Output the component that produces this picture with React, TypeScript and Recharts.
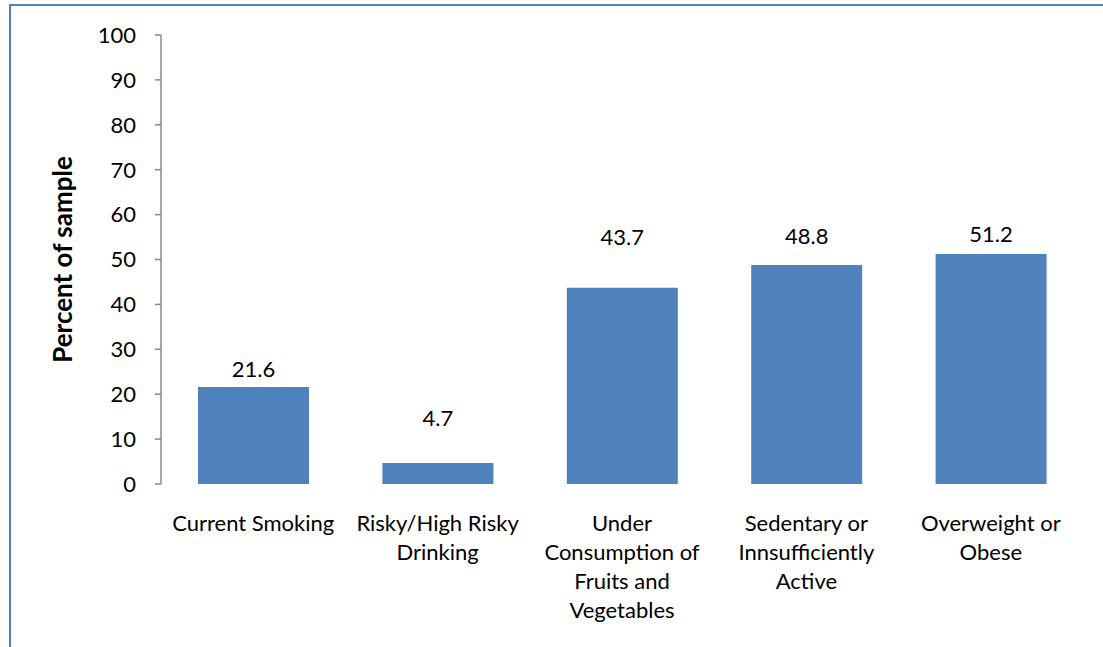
import { BarChart, Bar, XAxis, YAxis, LabelList } from 'recharts'

// Risk factor prevalence, percent of sample
const CATEGORIES = [
  'Current Smoking',
  'Risky/High Risky\nDrinking',
  'Under\nConsumption of\nFruits and\nVegetables',
  'Sedentary or\nInnsufficiently\nActive',
  'Overweight or\nObese',
]
const PREVALENCE = [21.6, 4.7, 43.7, 48.8, 51.2]
const Y_TICKS = [0, 10, 20, 30, 40, 50, 60, 70, 80, 90, 100]
const CATEGORY_EDGES = [0, 1, 2, 3, 4, 5]

// how far each value label sits above its bar (px, to the text's middle)
const LABEL_LIFT = [19, 45, 51, 29, 21]

const BAR_BLUE = '#4F81BD'
const AXIS_GREY = '#888888'
const FONT = 'Lato, "Open Sans", sans-serif'

const data = CATEGORIES.map((name, i) => ({ name, value: PREVALENCE[i] }))

function CategoryTick(props: any) {
  const { x, y, payload } = props
  const lines = String(payload.value).split('\n')
  return (
    <text x={x} y={y + 39} textAnchor="middle" fontSize={22} fontFamily={FONT} fill="#000">
      {lines.map((line, i) => (
        <tspan key={i} x={x} dy={i === 0 ? 0 : 29}>
          {line}
        </tspan>
      ))}
    </text>
  )
}

function ValueLabel(props: any) {
  const { x, y, width, value, index } = props
  return (
    <text
      x={x + width / 2}
      y={y - LABEL_LIFT[index]}
      textAnchor="middle"
      dominantBaseline="central"
      fontSize={22}
      fontFamily={FONT}
      fill="#000"
    >
      {value}
    </text>
  )
}

function AxisTitle(props: any) {
  const { viewBox } = props
  const cx = viewBox.x + 62
  const cy = viewBox.y + viewBox.height / 2
  return (
    <text
      x={cx}
      y={cy}
      transform={`rotate(-90 ${cx} ${cy})`}
      textAnchor="middle"
      dominantBaseline="central"
      fontSize={26}
      fontWeight="bold"
      fontFamily={FONT}
      fill="#000"
    >
      Percent of sample
    </text>
  )
}

export default function App() {
  return (
    <div
      style={{
        position: 'absolute',
        left: 0,
        top: 0,
        width: 1103,
        height: 647,
        background: '#fff',
        overflow: 'hidden',
        fontFamily: FONT,
      }}
    >
      <div
        style={{
          position: 'absolute',
          left: 9,
          top: 4,
          width: 1110,
          height: 660,
          borderTop: `2px solid ${BAR_BLUE}`,
          borderLeft: `2px solid ${BAR_BLUE}`,
        }}
      />
      <div style={{ position: 'absolute', left: 0, top: 0 }}>
        <BarChart
          width={1103}
          height={647}
          data={data}
          margin={{ top: 35, right: 20, left: 0, bottom: 0 }}
        >
          <XAxis
            xAxisId="edges"
            type="number"
            domain={[0, 5]}
            ticks={CATEGORY_EDGES}
            allowDataOverflow
            tick={false}
            tickSize={6}
            tickLine={{ stroke: AXIS_GREY, strokeWidth: 1.5 }}
            axisLine={{ stroke: AXIS_GREY, strokeWidth: 1.5 }}
            height={0}
          />
          <XAxis
            xAxisId="cat"
            dataKey="name"
            interval={0}
            tickLine={false}
            axisLine={false}
            tick={<CategoryTick />}
            height={163}
          />
          <YAxis
            domain={[0, 100]}
            ticks={Y_TICKS}
            interval={0}
            width={161}
            tickSize={6}
            tickMargin={19}
            tick={{ fontSize: 22, fontFamily: FONT, fill: '#000' }}
            tickLine={{ stroke: AXIS_GREY, strokeWidth: 1.5 }}
            axisLine={{ stroke: AXIS_GREY, strokeWidth: 1.5 }}
            label={{ content: <AxisTitle /> }}
          />
          <Bar
            dataKey="value"
            xAxisId="cat"
            fill={BAR_BLUE}
            barSize={111}
            isAnimationActive={false}
          >
            <LabelList dataKey="value" content={<ValueLabel />} />
          </Bar>
        </BarChart>
      </div>
    </div>
  )
}
